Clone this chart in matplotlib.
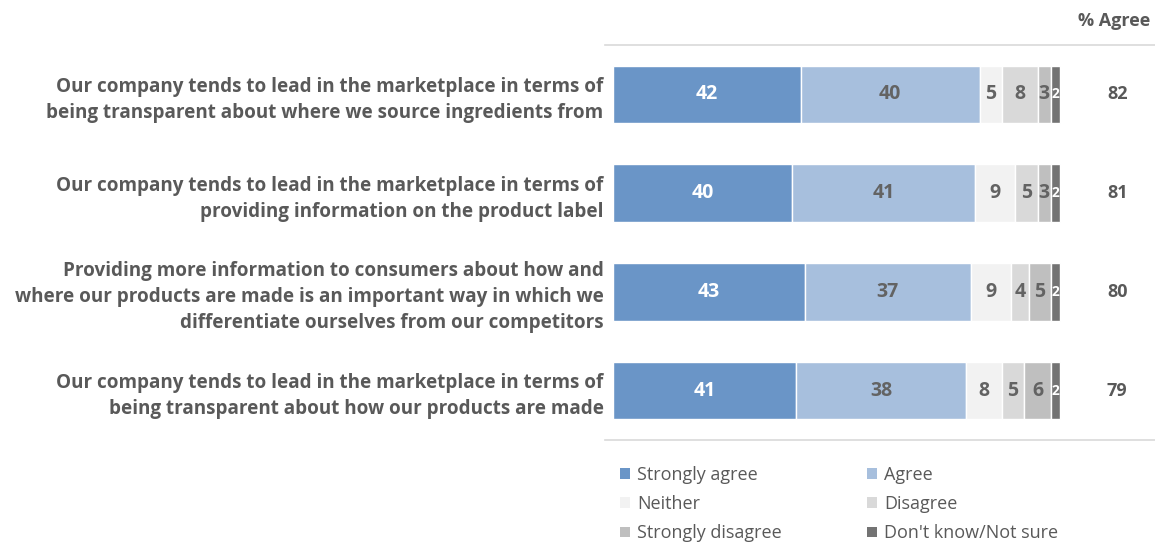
import matplotlib
matplotlib.use("Agg")
import matplotlib.pyplot as plt
from matplotlib.patches import Patch

categories = [
    "Our company tends to lead in the marketplace in terms of\nbeing transparent about where we source ingredients from",
    "Our company tends to lead in the marketplace in terms of\nproviding information on the product label",
    "Providing more information to consumers about how and\nwhere our products are made is an important way in which we\ndifferentiate ourselves from our competitors",
    "Our company tends to lead in the marketplace in terms of\nbeing transparent about how our products are made",
]
series_names = ["Strongly agree", "Agree", "Neither", "Disagree", "Strongly disagree", "Don't know/Not sure"]
strongly_agree = [42, 40, 43, 41]
agree = [40, 41, 37, 38]
neither = [5, 9, 9, 8]
disagree = [8, 5, 4, 5]
strongly_disagree = [3, 3, 5, 6]
dont_know = [2, 2, 2, 2]
pct_agree = [82, 81, 80, 79]

series = [strongly_agree, agree, neither, disagree, strongly_disagree, dont_know]
colors = ["#6A95C7", "#A7BFDD", "#F2F2F2", "#D9D9D9", "#BFBFBF", "#737373"]
text_colors = ["white", "#636363", "#636363", "#636363", "#636363", "white"]
label_color = "#595959"

plt.rcParams['font.family'] = ['Open Sans', 'DejaVu Sans']

fig = plt.figure(figsize=(11.55, 5.44), dpi=100)
ax = fig.add_axes([605/1155, 1 - 440/544, 550/1155, 395/544])

ypos = list(range(len(categories)))
left = [0] * len(categories)
for vals, col, tc in zip(series, colors, text_colors):
    ax.barh(ypos, vals, left=left, height=0.58, color=col, edgecolor="white", linewidth=1)
    for y, v, l in zip(ypos, vals, left):
        fs = 14 if v >= 3 else 10
        ax.text(l + v / 2, y, str(v), ha="center", va="center", color=tc,
                fontsize=fs, fontweight="bold")
    left = [a + b for a, b in zip(left, vals)]

for y, p in zip(ypos, pct_agree):
    ax.text(112.8, y, str(p), ha="center", va="center", color=label_color,
            fontsize=13, fontweight="bold")
ax.text(112, -0.74, "% Agree", ha="center", va="center", color=label_color,
        fontsize=13, fontweight="bold", clip_on=False)

ax.set_xlim(-1.79, 121.25)
ax.set_ylim(3.5, -0.5)
ax.set_yticks(ypos)
ax.set_yticklabels(categories, fontsize=13.6, fontweight="bold", color=label_color,
                   linespacing=1.4)
ax.tick_params(axis="y", length=0, pad=1)
ax.set_xticks([])
for s in ["left", "right"]:
    ax.spines[s].set_visible(False)
for s in ["top", "bottom"]:
    ax.spines[s].set_color("#D9D9D9")
    ax.spines[s].set_linewidth(1.2)

handles = [Patch(facecolor=c, edgecolor="none") for c in colors]
order = [0, 2, 4, 1, 3, 5]
fig.legend([handles[i] for i in order], [series_names[i] for i in order],
           ncol=2, loc="upper left", bbox_to_anchor=(620/1155, 1 - 466/544),
           frameon=False, fontsize=13, labelcolor=label_color,
           handlelength=0.55, handleheight=0.55, handletextpad=0.4,
           columnspacing=4.7, labelspacing=0.62, borderaxespad=0, borderpad=0)

fig.savefig("out.png", dpi=100)
